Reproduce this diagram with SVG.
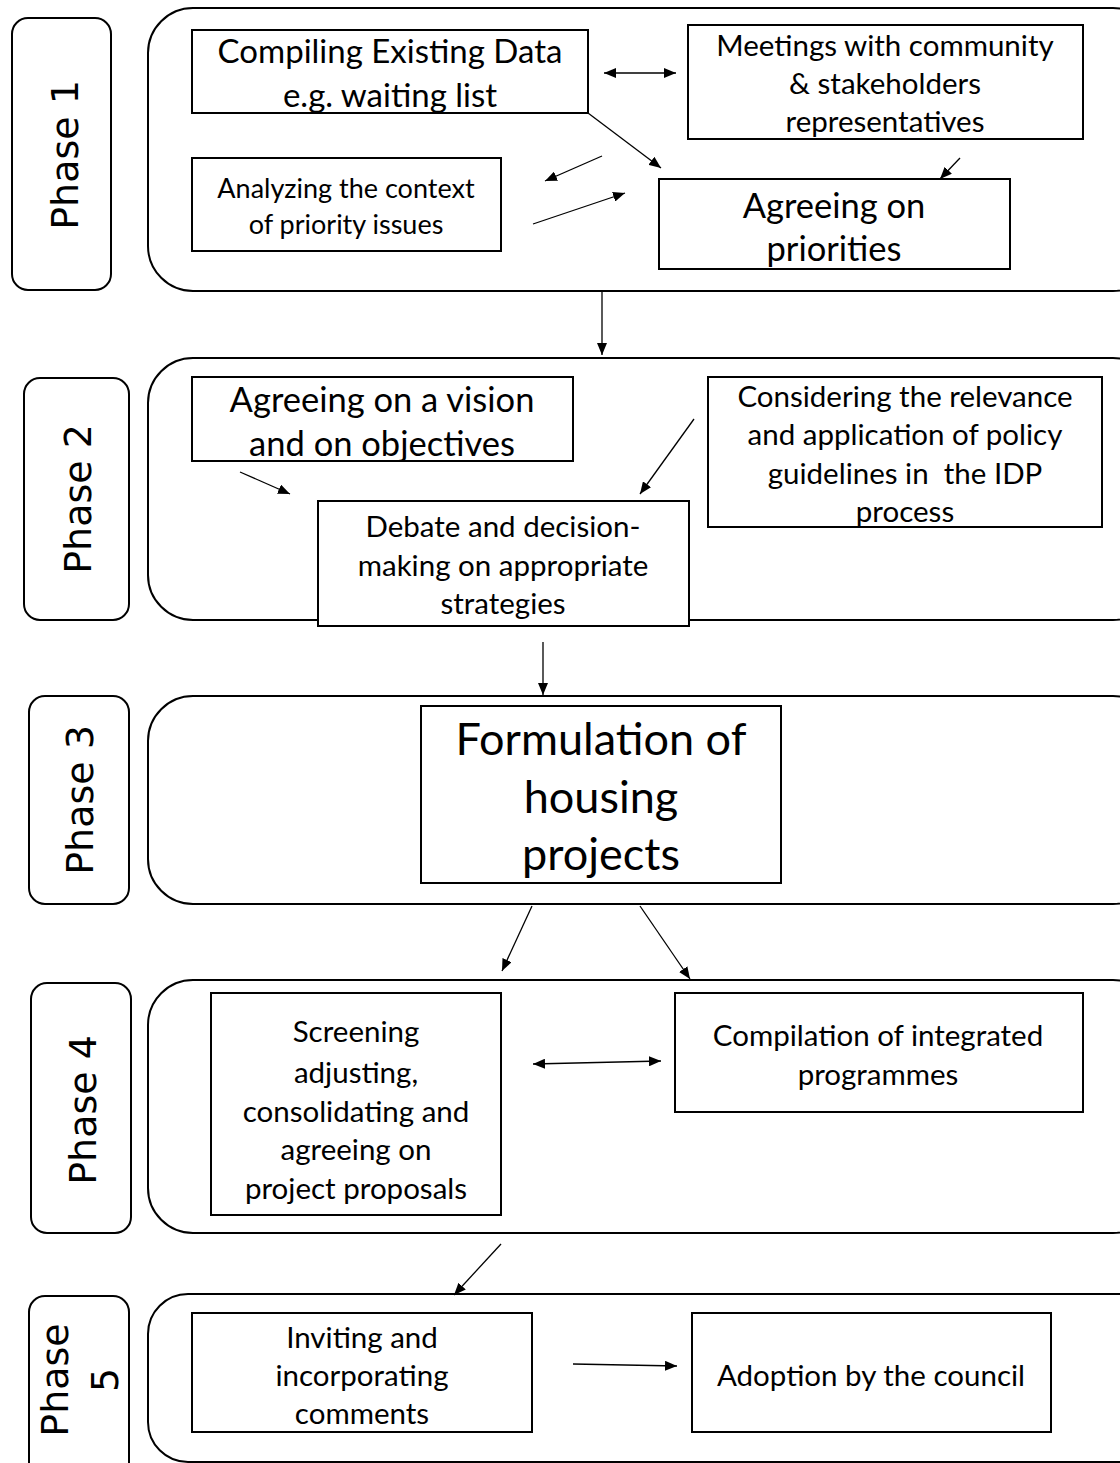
<svg xmlns="http://www.w3.org/2000/svg" width="1120" height="1463" viewBox="0 0 1120 1463">
<style>
.bg{fill:#fff}
.phase{fill:#fff;stroke:#000;stroke-width:2}
.cont{fill:#fff;stroke:#000;stroke-width:2}
.box{fill:#fff;stroke:#000;stroke-width:2}
.pl{font-family:"DejaVu Sans",sans-serif;font-size:38px;fill:#000;text-anchor:middle}
.t{font-family:Lato,"Liberation Sans",sans-serif;fill:#000;text-anchor:middle;dominant-baseline:central}
.s25{font-size:27px}.s27{font-size:29.5px}.s30{font-size:33px}.s32{font-size:34.5px}.s44{font-size:45px}
.c{stroke:#000;stroke-width:1.3;fill:none}
</style>
<defs>
<marker id="ah" viewBox="0 0 12 10" refX="12" refY="5" markerWidth="12" markerHeight="10" markerUnits="userSpaceOnUse" orient="auto-start-reverse"><path d="M0,0 L12,5 L0,10 z" fill="#000"/></marker>
</defs>
<rect class="bg" x="0" y="0" width="1120" height="1463"/>

<g id="phase1">
<rect class="phase" x="12" y="18" width="99" height="272" rx="16"/>
<text class="pl" transform="translate(78,155) rotate(-90)">Phase 1</text>
<rect class="cont" x="148" y="8" width="1010" height="283" rx="45"/>
</g>
<g id="n-compiling"><rect class="box" x="192" y="30" width="396" height="83"/>
<text class="t s30" x="390" y="50">Compiling Existing Data</text><text class="t s30" x="390" y="94">e.g. waiting list</text></g>
<g id="n-meetings"><rect class="box" x="688" y="25" width="395" height="114"/>
<text class="t s27" x="885" y="44">Meetings with community</text><text class="t s27" x="885" y="82">&amp; stakeholders</text><text class="t s27" x="885" y="120">representatives</text></g>
<g id="n-analyzing"><rect class="box" x="192" y="158" width="309" height="93"/>
<text class="t s25" x="346" y="187">Analyzing the context</text><text class="t s25" x="346" y="223">of priority issues</text></g>
<g id="n-priorities"><rect class="box" x="659" y="179" width="351" height="90"/>
<text class="t s32" x="834" y="204">Agreeing on</text><text class="t s32" x="834" y="247">priorities</text></g>

<g id="phase2">
<rect class="phase" x="24" y="378" width="105" height="242" rx="16"/>
<text class="pl" transform="translate(91,499) rotate(-90)">Phase 2</text>
<rect class="cont" x="148" y="358" width="1010" height="262" rx="45"/>
</g>
<g id="n-vision"><rect class="box" x="192" y="377" width="381" height="84"/>
<text class="t s32" x="382" y="398">Agreeing on a vision</text><text class="t s32" x="382" y="442">and on objectives</text></g>
<g id="n-considering"><rect class="box" x="708" y="377" width="394" height="150"/>
<text class="t s27" x="905" y="395">Considering the relevance</text><text class="t s27" x="905" y="433">and application of policy</text><text class="t s27" x="905" y="472" xml:space="preserve">guidelines in  the IDP</text><text class="t s27" x="905" y="510">process</text></g>
<g id="n-debate"><rect class="box" x="318" y="501" width="371" height="125"/>
<text class="t s27" x="503" y="525">Debate and decision-</text><text class="t s27" x="503" y="564">making on appropriate</text><text class="t s27" x="503" y="602">strategies</text></g>

<g id="phase3">
<rect class="phase" x="29" y="696" width="100" height="208" rx="16"/>
<text class="pl" transform="translate(93,800) rotate(-90)">Phase 3</text>
<rect class="cont" x="148" y="696" width="1010" height="208" rx="45"/>
</g>
<g id="n-formulation"><rect class="box" x="421" y="706" width="360" height="177"/>
<text class="t s44" x="601" y="738">Formulation of</text><text class="t s44" x="601" y="796">housing</text><text class="t s44" x="601" y="853">projects</text></g>

<g id="phase4">
<rect class="phase" x="31" y="983" width="100" height="250" rx="16"/>
<text class="pl" transform="translate(96,1110) rotate(-90)">Phase 4</text>
<rect class="cont" x="148" y="980" width="1010" height="253" rx="45"/>
</g>
<g id="n-screening"><rect class="box" x="211" y="993" width="290" height="222"/>
<text class="t s27" x="356" y="1030">Screening</text><text class="t s27" x="356" y="1071">adjusting,</text><text class="t s27" x="356" y="1110">consolidating and</text><text class="t s27" x="356" y="1148">agreeing on</text><text class="t s27" x="356" y="1187">project proposals</text></g>
<g id="n-compilation"><rect class="box" x="675" y="993" width="408" height="119"/>
<text class="t s27" x="878" y="1034">Compilation of integrated</text><text class="t s27" x="878" y="1073">programmes</text></g>

<g id="phase5">
<rect class="phase" x="29" y="1296" width="100" height="190" rx="16"/>
<text class="pl" transform="translate(68,1380) rotate(-90)">Phase</text>
<text class="pl" transform="translate(118,1380) rotate(-90)">5</text>
<rect class="cont" x="148" y="1294" width="1010" height="168" rx="40"/>
</g>
<g id="n-inviting"><rect class="box" x="192" y="1313" width="340" height="119"/>
<text class="t s27" x="362" y="1336">Inviting and</text><text class="t s27" x="362" y="1374">incorporating</text><text class="t s27" x="362" y="1412">comments</text></g>
<g id="n-adoption"><rect class="box" x="692" y="1313" width="359" height="119"/>
<text class="t s27" x="871" y="1374">Adoption by the council</text></g>

<g id="connectors">
<line class="c" x1="604" y1="73" x2="676" y2="73" marker-start="url(#ah)" marker-end="url(#ah)"/>
<line class="c" x1="588" y1="113" x2="661" y2="168" marker-end="url(#ah)"/>
<line class="c" x1="602" y1="156" x2="545" y2="181" marker-end="url(#ah)"/>
<line class="c" x1="533" y1="224" x2="625" y2="193" marker-end="url(#ah)"/>
<line class="c" x1="960" y1="158" x2="940" y2="179" marker-end="url(#ah)"/>
<line class="c" x1="602" y1="291" x2="602" y2="355" marker-end="url(#ah)"/>
<line class="c" x1="240" y1="472" x2="290" y2="494" marker-end="url(#ah)"/>
<line class="c" x1="694" y1="419" x2="640" y2="494" marker-end="url(#ah)"/>
<line class="c" x1="543" y1="642" x2="543" y2="695" marker-end="url(#ah)"/>
<line class="c" x1="532" y1="906" x2="502" y2="971" marker-end="url(#ah)"/>
<line class="c" x1="640" y1="906" x2="690" y2="979" marker-end="url(#ah)"/>
<line class="c" x1="533" y1="1064" x2="661" y2="1061" marker-start="url(#ah)" marker-end="url(#ah)"/>
<line class="c" x1="501" y1="1244" x2="454" y2="1295" marker-end="url(#ah)"/>
<line class="c" x1="573" y1="1364" x2="677" y2="1366" marker-end="url(#ah)"/>
</g>
</svg>
